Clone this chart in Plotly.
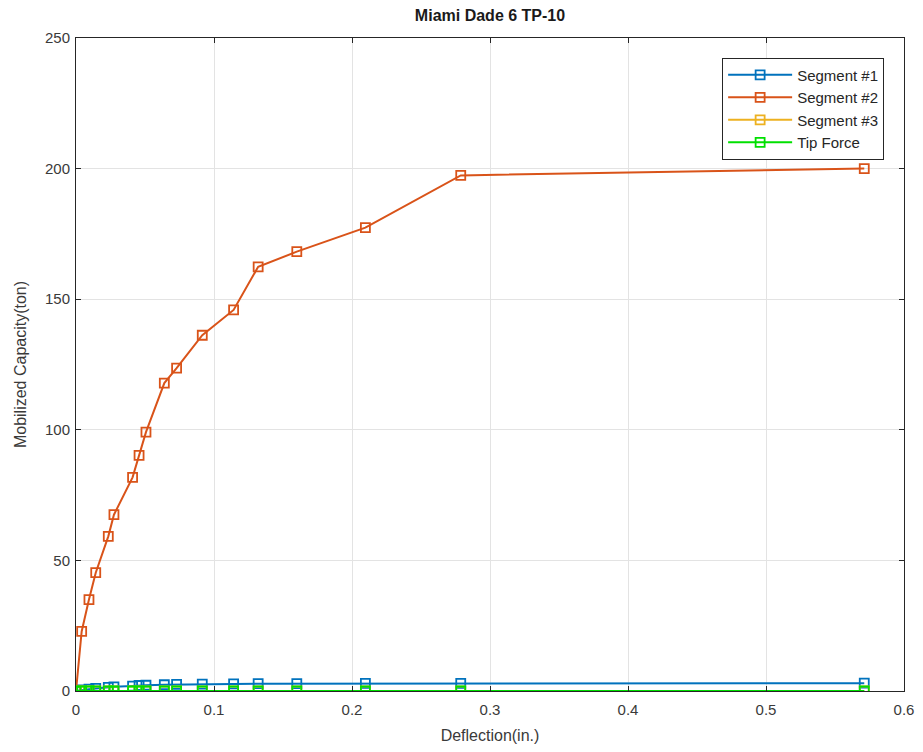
import plotly.graph_objects as go

# deflection (in.) shared by all series
deflection = [0, 0.0041, 0.0094, 0.0143, 0.0234, 0.0275, 0.041, 0.0457, 0.0507,
              0.064, 0.0729, 0.0915, 0.1142, 0.132, 0.160, 0.2097, 0.2788, 0.5712]

segment1 = [0, 0.4, 0.7, 1.0, 1.4, 1.6, 1.9, 2.1, 2.2,
            2.4, 2.5, 2.6, 2.7, 2.8, 2.8, 2.9, 2.9, 3.0]
segment2 = [0, 22.8, 35.0, 45.3, 59.2, 67.5, 81.8, 90.2, 99.1,
            117.9, 123.6, 136.2, 145.9, 162.4, 168.2, 177.4, 197.4, 200.0]
segment3 = [0] * len(deflection)
tip_force = [0] * len(deflection)

series = [
    ("Segment #1", segment1, "#0072BD"),
    ("Segment #2", segment2, "#D95319"),
    ("Segment #3", segment3, "#EDB120"),
    ("Tip Force", tip_force, "#00E000"),
]

fig = go.Figure()
for name, vals, col in series:
    fig.add_trace(go.Scatter(
        x=deflection, y=vals, name=name, mode="lines+markers",
        line=dict(color=col, width=2),
        marker=dict(symbol="square-open", size=9, color=col, line=dict(width=1.8)),
    ))

axis_common = dict(
    showline=True, linecolor="#262626", linewidth=1, mirror="ticks",
    showgrid=True, gridcolor="#e3e3e3", gridwidth=1,
    ticks="inside", ticklen=5, tickcolor="#262626",
    zeroline=False, automargin=False,
    tickfont=dict(size=15, color="#3a3a3a"),
)

# page body has an 8px margin, so the figure is sized to fit inside it
fig.update_layout(
    width=907, height=736,
    margin=dict(l=68, r=11, t=30, b=53),
    paper_bgcolor="white", plot_bgcolor="white",
    font=dict(family="Liberation Sans, Arial, sans-serif", color="#262626"),
    title=dict(text="<b>Miami Dade 6 TP-10</b>", x=0.5, xref="paper", xanchor="center",
               y=0.997, yanchor="top", font=dict(size=16, color="#1a1a1a")),
    xaxis=dict(range=[0, 0.6], tickvals=[0, 0.1, 0.2, 0.3, 0.4, 0.5, 0.6],
               ticktext=["0", "0.1", "0.2", "0.3", "0.4", "0.5", "0.6"],
               ticklabelstandoff=5,
               title=dict(text="Deflection(in.)", font=dict(size=16, color="#3a3a3a"), standoff=14),
               **axis_common),
    yaxis=dict(range=[0, 250], tickvals=[0, 50, 100, 150, 200, 250],
               ticklabelstandoff=2,
               title=dict(text="Mobilized Capacity(ton)", font=dict(size=16, color="#3a3a3a"),
                          standoff=14),
               **axis_common),
    legend=dict(x=0.976, xanchor="right", y=0.97, yanchor="top",
                bgcolor="white", bordercolor="#262626", borderwidth=1,
                font=dict(size=15), tracegroupgap=0, itemwidth=64),
    showlegend=True,
)

fig.write_html("out.html")
